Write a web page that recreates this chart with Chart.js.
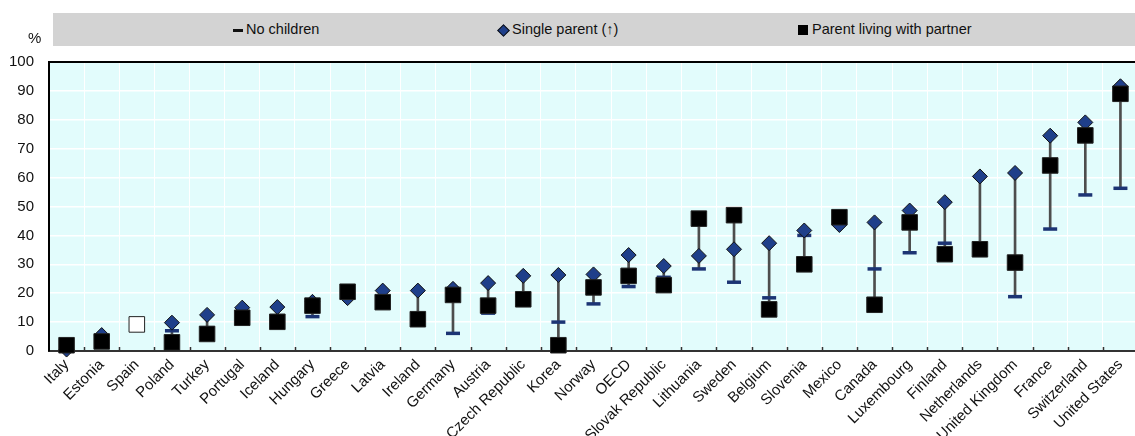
<!DOCTYPE html>
<html>
<head>
<meta charset="utf-8">
<script src="https://cdn.jsdelivr.net/npm/chart.js@4.4.0/dist/chart.umd.min.js"></script>
<style>
  body { margin: 0; background: #fff; overflow: hidden; width: 1135px; height: 436px; position: relative; }
  #wrap { position: absolute; left: 0; top: 0; width: 1150px; height: 436px; }
  .f { font-family: "Liberation Sans", Arial, sans-serif; font-size: 14.5px; color: #111; }
  #legend { position: absolute; left: 53px; top: 13px; width: 1082px; height: 33px; background: #d3d3d3; }
  .item { position: absolute; top: 0; height: 33px; line-height: 33px; white-space: nowrap; }
  .mk { position: absolute; }
  #pct { position: absolute; left: 28px; top: 29px; font-size: 15px; }
</style>
</head>
<body>
<div id="wrap"><canvas id="chart" width="1150" height="436"></canvas></div>
<div id="legend">
  <div class="mk" style="left:180px;top:16px;width:10px;height:3px;background:#111;"></div>
  <div class="item f" style="left:193px;">No children</div>
  <div class="mk" style="left:446px;top:13px;width:7px;height:7px;background:#1f3f8a;border:1px solid #111;transform:rotate(45deg);"></div>
  <div class="item f" style="left:459px;">Single parent (↑)</div>
  <div class="mk" style="left:745px;top:12px;width:10px;height:10px;background:#000;"></div>
  <div class="item f" style="left:759px;">Parent living with partner</div>
</div>
<div id="pct" class="f">%</div>
<script>
const countries = ['Italy', 'Estonia', 'Spain', 'Poland', 'Turkey', 'Portugal', 'Iceland', 'Hungary', 'Greece', 'Latvia',
  'Ireland', 'Germany', 'Austria', 'Czech Republic', 'Korea', 'Norway', 'OECD', 'Slovak Republic', 'Lithuania', 'Sweden',
  'Belgium', 'Slovenia', 'Mexico', 'Canada', 'Luxembourg', 'Finland', 'Netherlands', 'United Kingdom', 'France',
  'Switzerland', 'United States'];

const noChildren = [1, 3, null, 7, 8, 12, 11, 11.9, 19, 17, 12, 6.1, 13.1, 18, 10, 16.3, 22.3, 25.5, 28.4, 23.8,
  18.4, 40, 45, 28.4, 34, 37.3, 36, 18.8, 42.2, 54, 56.3];

const singleParent = [0.5, 5.5, null, 9.8, 12.5, 15, 15.2, 17, 18.3, 20.9, 20.9, 21.5, 23.5, 26, 26.3, 26.5, 33.2, 29.4,
  32.9, 35.2, 37.3, 41.7, 43.6, 44.5, 48.6, 51.5, 60.4, 61.6, 74.5, 79.1, 91.6];

const withPartner = [2, 3.3, 9.2, 3, 5.9, 11.5, 10.1, 15.7, 20.5, 16.9, 11, 19.4, 15.7, 17.9, 2, 22, 26, 22.8, 45.8, 47,
  14.4, 30, 46.3, 16, 44.5, 33.5, 35.2, 30.6, 64.2, 74.6, 89];

// Spain is shown with a hollow marker
const hollow = ['Spain'];

const yTicks = [0, 10, 20, 30, 40, 50, 60, 70, 80, 90, 100];

const FONT = '"Liberation Sans", Arial, sans-serif';

// vertical range line between lowest and highest value of each country
const ranges = countries.map((c, i) => {
  const vals = [noChildren[i], singleParent[i], withPartner[i]].filter(v => v !== null);
  return [Math.min(...vals), Math.max(...vals)];
});

const plotDeco = {
  id: 'plotDeco',
  beforeDraw(chart) {
    const { ctx, chartArea: a } = chart;
    ctx.save();
    ctx.fillStyle = '#e2fcfc';
    ctx.fillRect(a.left, a.top, a.right - a.left, a.bottom - a.top);
    ctx.restore();
  },
  beforeDatasetsDraw(chart) {
    const { ctx, chartArea: a, scales } = chart;
    const x = scales.x;
    const half = (x.getPixelForValue(1) - x.getPixelForValue(0)) / 2;
    ctx.save();
    ctx.strokeStyle = '#333';
    ctx.lineWidth = 1.5;
    ctx.beginPath();
    for (let i = 1; i < countries.length; i++) {
      const px = Math.round(x.getPixelForValue(i) - half) + 0.5;
      ctx.moveTo(px, a.bottom);
      ctx.lineTo(px, a.bottom - 4);
    }
    ctx.stroke();
    ctx.strokeStyle = '#000';
    ctx.lineWidth = 2;
    ctx.beginPath();
    ctx.moveTo(a.left, a.top);
    ctx.lineTo(a.right, a.top);
    ctx.stroke();
    ctx.restore();
  }
};

new Chart(document.getElementById('chart'), {
  type: 'bar',
  data: {
    labels: countries,
    datasets: [
      {
        type: 'line',
        label: 'Parent living with partner',
        data: withPartner,
        showLine: false,
        pointStyle: 'rect',
        pointRadius: 11,
        pointBackgroundColor: countries.map(c => hollow.includes(c) ? '#fff' : '#000'),
        pointBorderColor: '#222',
        pointBorderWidth: 1,
        clip: false,
        order: 0
      },
      {
        type: 'line',
        label: 'Single parent (↑)',
        data: singleParent,
        showLine: false,
        pointStyle: 'rectRot',
        pointRadius: 7.5,
        pointBackgroundColor: '#1f3f8a',
        pointBorderColor: '#111',
        pointBorderWidth: 1,
        clip: false,
        order: 1
      },
      {
        type: 'line',
        label: 'No children',
        data: noChildren,
        showLine: false,
        pointStyle: 'line',
        pointRadius: 7,
        pointBorderColor: '#1c3474',
        pointBorderWidth: 3.5,
        clip: false,
        order: 2
      },
      {
        label: 'range',
        data: ranges,
        backgroundColor: '#4d4d4d',
        barThickness: 2,
        borderWidth: 0,
        order: 3
      }
    ]
  },
  options: {
    responsive: false,
    animation: false,
    layout: { padding: { top: 62, left: 0, right: 1, bottom: 0 } },
    plugins: { legend: { display: false }, tooltip: { enabled: false } },
    scales: {
      x: {
        offset: true,
        grid: { color: '#ffffff', lineWidth: 1, drawTicks: false, offset: true },
        border: { color: '#333', width: 2 },
        ticks: {
          autoSkip: false,
          maxRotation: 45,
          minRotation: 45,
          padding: 5,
          color: '#111',
          font: { family: FONT, size: 15 }
        },
        afterFit(scale) { scale.height = 85; }
      },
      y: {
        min: 0,
        max: 100,
        afterBuildTicks(scale) { scale.ticks = yTicks.map(v => ({ value: v })); },
        grid: { color: '#ffffff', lineWidth: 1.5, drawTicks: false },
        border: { color: '#000', width: 2 },
        ticks: {
          padding: 15,
          color: '#111',
          font: { family: FONT, size: 15 }
        },
        afterFit(scale) { scale.width = 49; }
      }
    }
  },
  plugins: [plotDeco]
});
</script>
</body>
</html>
